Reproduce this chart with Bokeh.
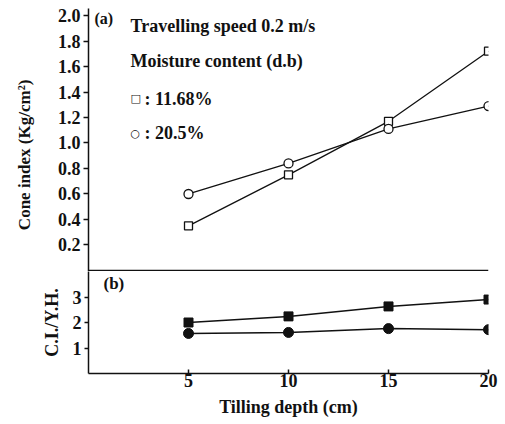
from bokeh.plotting import figure
from bokeh.layouts import column
from bokeh.models import Range1d, FixedTicker, PrintfTickFormatter, Span, Label
from bokeh.embed import file_html
from bokeh.resources import INLINE

# ---- data ----
depth = [5, 10, 15, 20]
ci_1168 = [0.35, 0.75, 1.17, 1.72]
ci_205 = [0.60, 0.84, 1.11, 1.29]
ciyh_1168 = [2.00, 2.24, 2.63, 2.90]
ciyh_205 = [1.57, 1.61, 1.76, 1.72]
yticks_a = [0.2, 0.4, 0.6, 0.8, 1.0, 1.2, 1.4, 1.6, 1.8, 2.0]
yticks_b = [1, 2, 3]
xticks = [5, 10, 15, 20]

FONT = "Liberation Serif"
INK = "#111111"
NBSP = "\u00a0"


def style_axis(ax, size="18px"):
    ax.axis_line_color = INK
    ax.axis_line_width = 1.5
    ax.major_tick_line_color = INK
    ax.major_tick_line_width = 1.5
    ax.minor_tick_line_color = None
    ax.major_label_text_font = FONT
    ax.major_label_text_font_style = "bold"
    ax.major_label_text_font_size = size
    ax.major_label_text_color = INK
    ax.axis_label_text_font = FONT
    ax.axis_label_text_font_style = "bold"
    ax.axis_label_text_font_size = "18px"
    ax.axis_label_text_color = INK


# ---- panel (a) ----
pa = figure(width=501, height=271, output_backend="svg", toolbar_location=None,
            x_range=Range1d(0, 20), y_range=Range1d(-0.008, 2.055),
            min_border_left=88, min_border_right=13, min_border_top=8, min_border_bottom=0)
pa.outline_line_color = None
pa.grid.visible = False
pa.xaxis.visible = False
pa.yaxis.ticker = FixedTicker(ticks=yticks_a)
pa.yaxis.formatter = PrintfTickFormatter(format="%.1f")
style_axis(pa.yaxis[0])
pa.yaxis.major_tick_in = 0
pa.yaxis.major_tick_out = 5
pa.yaxis.major_label_standoff = 3
pa.yaxis.axis_label = "Cone index (Kg/cm²)" + NBSP * 7
pa.yaxis.axis_label_text_font_size = "17px"
pa.yaxis.axis_label_standoff = 21
pa.add_layout(Span(location=0, dimension="width", line_color=INK, line_width=1.5))

pa.line(depth, ci_1168, line_color=INK, line_width=1.3)
pa.scatter(depth, ci_1168, marker="square", size=8, fill_color="white", line_color=INK, line_width=1.3)
pa.line(depth, ci_205, line_color=INK, line_width=1.3)
pa.scatter(depth, ci_205, marker="circle", size=9, fill_color="white", line_color=INK, line_width=1.3)


def add_text(p, x, y, txt, size="18px", font=FONT, style="bold"):
    p.add_layout(Label(x=x, y=y, text=txt, text_font=font, text_font_style=style,
                       text_font_size=size, text_color=INK, text_baseline="middle", text_align="left"))


add_text(pa, 0.3, 1.976, "(a)", "16px")
add_text(pa, 2.1, 1.92, "Travelling speed 0.2 m/s")
add_text(pa, 2.1, 1.647, "Moisture content (d.b)")
add_text(pa, 2.1, 1.349, "□", "11px", "DejaVu Sans", "normal")
add_text(pa, 2.8, 1.349, ": 11.68%")
add_text(pa, 2.1, 1.075, "○", "11px", "DejaVu Sans", "normal")
add_text(pa, 2.8, 1.075, ": 20.5%")

# ---- panel (b) ----
pb = figure(width=501, height=153, output_backend="svg", toolbar_location=None,
            x_range=Range1d(0, 20), y_range=Range1d(0, 4.0),
            min_border_left=88, min_border_right=13, min_border_top=0, min_border_bottom=51)
pb.outline_line_color = None
pb.grid.visible = False
pb.yaxis.ticker = FixedTicker(ticks=yticks_b)
pb.xaxis.ticker = FixedTicker(ticks=xticks)
style_axis(pb.yaxis[0])
style_axis(pb.xaxis[0])
pb.yaxis.major_tick_in = 0
pb.yaxis.major_tick_out = 4
pb.yaxis.major_label_standoff = 3
pb.yaxis.axis_label = "C.I./Y.H."
pb.yaxis.axis_label_standoff = 8
pb.xaxis.major_tick_in = 4
pb.xaxis.major_tick_out = 0
pb.xaxis.major_label_standoff = 0
pb.xaxis.axis_label = "Tilling depth (cm)"
pb.xaxis.axis_label_standoff = 7

pb.line(depth, ciyh_1168, line_color=INK, line_width=1.5)
pb.scatter(depth, ciyh_1168, marker="square", size=9, fill_color=INK, line_color=INK)
pb.line(depth, ciyh_205, line_color=INK, line_width=1.5)
pb.scatter(depth, ciyh_205, marker="circle", size=10, fill_color=INK, line_color=INK)
add_text(pb, 0.75, 3.53, "(b)", "17px")

layout = column(pa, pb)
open("out.html", "w").write(file_html(layout, INLINE))
